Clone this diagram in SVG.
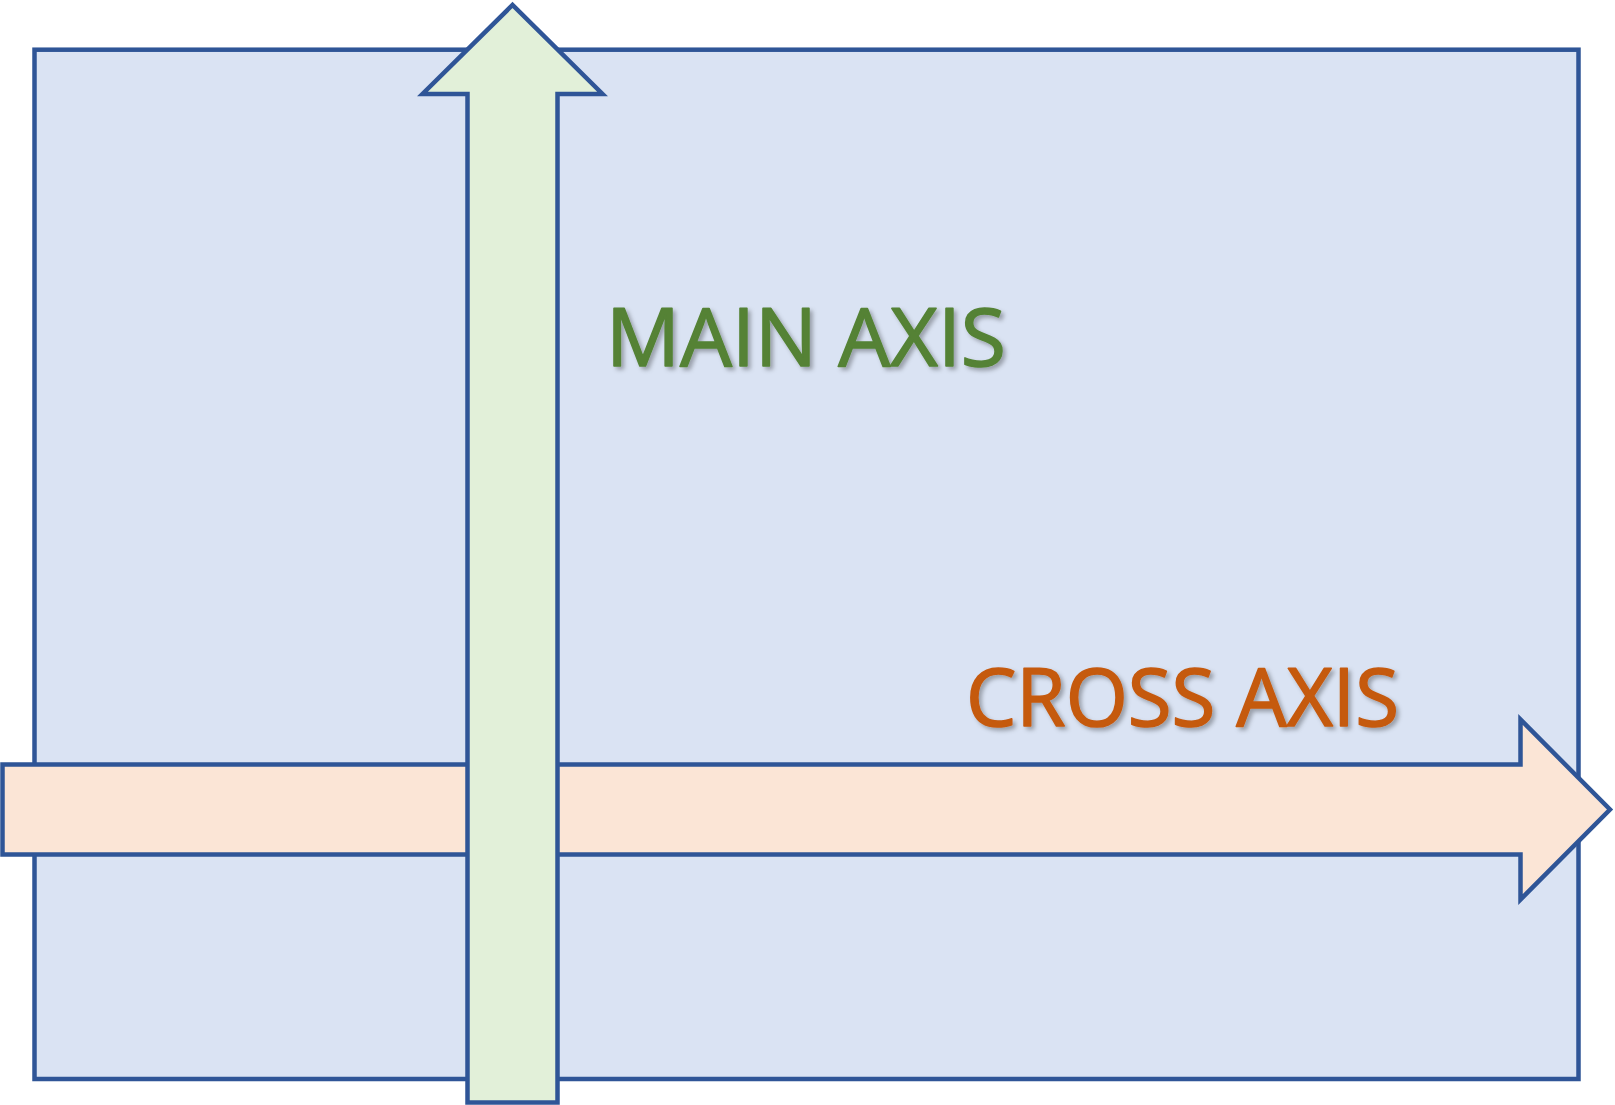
<svg xmlns="http://www.w3.org/2000/svg" width="1615" height="1105" viewBox="0 0 1615 1105">
  <defs>
    <filter id="shadow" x="-5%" y="-20%" width="110%" height="140%">
      <feDropShadow dx="3" dy="3" stdDeviation="2" flood-color="#000" flood-opacity="0.3"/>
    </filter>
  </defs>
  <style>
    .outline { stroke: #2F5597; stroke-width: 4.5; stroke-linejoin: miter; }
    .label { font-family: "Open Sans", "Noto Sans", "Liberation Sans", sans-serif; font-size: 81px; stroke-width: 1.6; stroke-linejoin: round; filter: url(#shadow); }
    .main { fill: #548235; stroke: #548235; }
    .cross { fill: #C55A11; stroke: #C55A11; }
  </style>
  <rect width="1615" height="1105" fill="#FFFFFF"/>
  <g id="container">
    <rect class="outline" x="34.5" y="49.7" width="1544" height="1029.3" fill="#DAE3F3"/>
  </g>
  <g id="connectors">
    <g id="cross-axis-arrow">
      <path class="outline" fill="#FBE5D6" d="M2.5,764.5 L1520.5,764.5 L1520.5,719.5 L1610,809.5 L1520.5,899.5 L1520.5,854.5 L2.5,854.5 Z"/>
    </g>
    <g id="main-axis-arrow">
      <path class="outline" fill="#E2F0D9" d="M467.5,1102.5 L467.5,94 L422.5,94 L512.5,5 L602.5,94 L557.5,94 L557.5,1102.5 Z"/>
    </g>
  </g>
  <g id="main-axis-label">
    <text class="label main" x="606" y="366" textLength="400" lengthAdjust="spacingAndGlyphs">MAIN AXIS</text>
  </g>
  <g id="cross-axis-label">
    <text class="label cross" x="966" y="726" textLength="433" lengthAdjust="spacingAndGlyphs">CROSS AXIS</text>
  </g>
</svg>
